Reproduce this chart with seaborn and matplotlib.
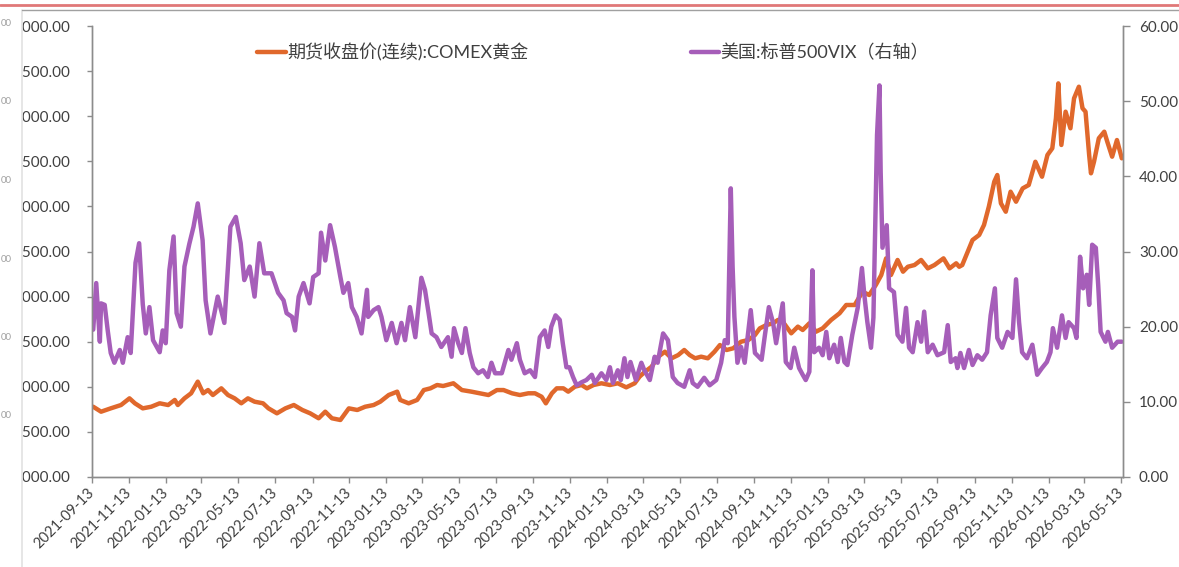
import matplotlib
matplotlib.use("Agg")
import matplotlib.pyplot as plt
import pandas as pd
import seaborn as sns
from matplotlib.lines import Line2D
from matplotlib.patches import Rectangle
from matplotlib.ticker import FormatStrFormatter

# ---------------- data ----------------
gold_label = "期货收盘价(连续):COMEX黄金"
vix_label = "美国:标普500VIX（右轴）"

gold_dates = [
    "2021-09-15", "2021-09-28", "2021-10-14", "2021-10-31", "2021-11-14", "2021-11-23",
    "2021-12-06", "2021-12-20", "2022-01-03", "2022-01-17", "2022-01-28", "2022-02-02",
    "2022-02-13", "2022-02-24", "2022-03-07", "2022-03-16", "2022-03-24", "2022-04-01",
    "2022-04-15", "2022-04-26", "2022-05-07", "2022-05-18", "2022-05-29", "2022-06-09",
    "2022-06-23", "2022-07-02", "2022-07-16", "2022-07-30", "2022-08-13", "2022-08-27",
    "2022-09-09", "2022-09-23", "2022-10-04", "2022-10-15", "2022-10-29", "2022-11-12",
    "2022-11-26", "2022-12-09", "2022-12-23", "2023-01-03", "2023-01-17", "2023-01-31",
    "2023-02-05", "2023-02-19", "2023-03-05", "2023-03-16", "2023-03-27", "2023-04-07",
    "2023-04-17", "2023-05-04", "2023-05-18", "2023-06-03", "2023-06-17", "2023-07-01",
    "2023-07-15", "2023-07-26", "2023-08-09", "2023-08-22", "2023-09-05", "2023-09-16",
    "2023-09-27", "2023-10-04", "2023-10-14", "2023-10-22", "2023-11-02", "2023-11-10",
    "2023-11-21", "2023-12-02", "2023-12-11", "2023-12-22", "2024-01-04", "2024-01-18",
    "2024-01-31", "2024-02-14", "2024-02-28", "2024-03-07", "2024-03-16", "2024-03-27",
    "2024-04-07", "2024-04-18", "2024-04-29", "2024-05-10", "2024-05-20", "2024-05-29",
    "2024-06-07", "2024-06-17", "2024-06-28", "2024-07-09", "2024-07-18", "2024-07-29",
    "2024-08-09", "2024-08-22", "2024-09-03", "2024-09-14", "2024-09-22", "2024-10-03",
    "2024-10-14", "2024-10-22", "2024-10-30", "2024-11-13", "2024-11-24", "2024-12-02",
    "2024-12-13", "2024-12-24", "2025-01-04", "2025-01-18", "2025-02-01", "2025-02-12",
    "2025-02-26", "2025-03-11", "2025-03-22", "2025-04-02", "2025-04-11", "2025-04-19",
    "2025-04-27", "2025-05-08", "2025-05-17", "2025-05-25", "2025-06-05", "2025-06-16",
    "2025-06-27", "2025-07-08", "2025-07-23", "2025-08-02", "2025-08-13", "2025-08-18",
    "2025-08-23", "2025-09-01", "2025-09-09", "2025-09-20", "2025-09-28", "2025-10-06",
    "2025-10-15", "2025-10-20", "2025-10-26", "2025-11-03", "2025-11-11", "2025-11-20",
    "2025-12-01", "2025-12-11", "2025-12-22", "2026-01-02", "2026-01-11", "2026-01-19",
    "2026-01-25", "2026-01-29", "2026-02-03", "2026-02-10", "2026-02-18", "2026-02-24",
    "2026-03-04", "2026-03-10", "2026-03-15", "2026-03-21", "2026-03-24", "2026-03-29",
    "2026-04-06", "2026-04-15", "2026-04-20", "2026-04-28", "2026-05-06", "2026-05-14",
]
gold_values = [
    1779, 1724, 1761, 1798, 1872, 1817,
    1761, 1779, 1817, 1798, 1854, 1798,
    1872, 1928, 2057, 1928, 1964, 1909,
    1983, 1909, 1872, 1817, 1872, 1835,
    1817, 1761, 1706, 1761, 1798, 1743,
    1706, 1651, 1724, 1651, 1632, 1761,
    1743, 1779, 1798, 1835, 1909, 1946,
    1854, 1817, 1854, 1964, 1983, 2020,
    2009, 2039, 1964, 1946, 1928, 1909,
    1964, 1964, 1928, 1909, 1928, 1928,
    1890, 1817, 1928, 1983, 1983, 1946,
    2001, 2020, 1983, 2020, 2039, 2020,
    2039, 1994, 2039, 2112, 2167, 2223,
    2334, 2389, 2316, 2352, 2408, 2352,
    2316, 2334, 2316, 2389, 2463, 2408,
    2427, 2500, 2519, 2574, 2648, 2685,
    2704, 2741, 2722, 2593, 2667, 2630,
    2704, 2611, 2648, 2741, 2815, 2907,
    2907, 3054, 3018, 3129, 3239, 3424,
    3239, 3406, 3276, 3331, 3350, 3406,
    3313, 3350, 3424, 3313, 3369, 3331,
    3350, 3498, 3627, 3683, 3794, 3997,
    4274, 4348, 4034, 3941, 4163, 4052,
    4200, 4237, 4495, 4329, 4570, 4644,
    4976, 5364, 4681, 5050, 4866, 5198,
    5327, 5088, 5050, 4570, 4367, 4495,
    4755, 4828, 4717, 4551, 4736, 4533,
]

vix_dates = [
    "2021-09-15", "2021-09-20", "2021-09-26", "2021-09-28", "2021-10-04", "2021-10-09",
    "2021-10-14", "2021-10-20", "2021-10-29", "2021-11-03", "2021-11-11", "2021-11-16",
    "2021-11-24", "2021-11-30", "2021-12-06", "2021-12-11", "2021-12-17", "2021-12-23",
    "2022-01-03", "2022-01-08", "2022-01-13", "2022-01-19", "2022-01-26", "2022-01-31",
    "2022-02-07", "2022-02-13", "2022-02-21", "2022-02-28", "2022-03-07", "2022-03-15",
    "2022-03-20", "2022-03-28", "2022-04-09", "2022-04-20", "2022-04-26", "2022-04-30",
    "2022-05-09", "2022-05-17", "2022-05-23", "2022-06-01", "2022-06-09", "2022-06-17",
    "2022-06-25", "2022-07-07", "2022-07-18", "2022-07-27", "2022-08-01", "2022-08-10",
    "2022-08-15", "2022-08-21", "2022-08-29", "2022-09-08", "2022-09-14", "2022-09-23",
    "2022-09-27", "2022-10-04", "2022-10-12", "2022-10-20", "2022-10-29", "2022-11-03",
    "2022-11-11", "2022-11-17", "2022-11-25", "2022-12-03", "2022-12-12", "2022-12-14",
    "2022-12-23", "2022-12-31", "2023-01-05", "2023-01-13", "2023-01-22", "2023-01-30",
    "2023-02-07", "2023-02-13", "2023-02-21", "2023-03-02", "2023-03-12", "2023-03-18",
    "2023-03-24", "2023-03-29", "2023-04-06", "2023-04-14", "2023-04-25", "2023-05-01",
    "2023-05-05", "2023-05-12", "2023-05-18", "2023-05-24", "2023-05-31", "2023-06-06",
    "2023-06-14", "2023-06-22", "2023-06-30", "2023-07-06", "2023-07-12", "2023-07-23",
    "2023-08-03", "2023-08-08", "2023-08-17", "2023-08-22", "2023-08-30", "2023-09-08",
    "2023-09-16", "2023-09-24", "2023-10-02", "2023-10-08", "2023-10-13", "2023-10-20",
    "2023-10-27", "2023-11-01", "2023-11-07", "2023-11-12", "2023-11-18", "2023-11-24",
    "2023-12-02", "2023-12-10", "2023-12-19", "2023-12-24", "2024-01-04", "2024-01-12",
    "2024-01-18", "2024-01-23", "2024-01-31", "2024-02-05", "2024-02-11", "2024-02-16",
    "2024-02-21", "2024-03-01", "2024-03-10", "2024-03-15", "2024-03-24", "2024-04-01",
    "2024-04-06", "2024-04-15", "2024-04-23", "2024-05-01", "2024-05-09", "2024-05-20",
    "2024-05-29", "2024-06-03", "2024-06-11", "2024-06-22", "2024-07-01", "2024-07-12",
    "2024-07-20", "2024-07-26", "2024-07-31", "2024-08-05", "2024-08-08", "2024-08-11",
    "2024-08-16", "2024-08-22", "2024-08-28", "2024-09-07", "2024-09-14", "2024-09-25",
    "2024-09-30", "2024-10-07", "2024-10-14", "2024-10-19", "2024-10-30", "2024-11-04",
    "2024-11-12", "2024-11-18", "2024-11-26", "2024-12-02", "2024-12-07", "2024-12-13",
    "2024-12-18", "2024-12-21", "2024-12-29", "2025-01-04", "2025-01-10", "2025-01-15",
    "2025-01-23", "2025-01-29", "2025-02-03", "2025-02-09", "2025-02-14", "2025-02-22",
    "2025-03-03", "2025-03-10", "2025-03-14", "2025-03-19", "2025-03-25", "2025-03-29",
    "2025-04-04", "2025-04-08", "2025-04-10", "2025-04-13", "2025-04-20", "2025-04-24",
    "2025-05-02", "2025-05-08", "2025-05-16", "2025-05-22", "2025-05-27", "2025-06-02",
    "2025-06-10", "2025-06-16", "2025-06-21", "2025-06-27", "2025-07-05", "2025-07-13",
    "2025-07-24", "2025-07-30", "2025-08-04", "2025-08-12", "2025-08-15", "2025-08-20",
    "2025-08-26", "2025-09-03", "2025-09-09", "2025-09-17", "2025-09-25", "2025-10-03",
    "2025-10-09", "2025-10-16", "2025-10-20", "2025-10-28", "2025-11-06", "2025-11-14",
    "2025-11-20", "2025-11-25", "2025-11-30", "2025-12-08", "2025-12-17", "2025-12-25",
    "2026-01-02", "2026-01-10", "2026-01-16", "2026-01-20", "2026-01-27", "2026-02-04",
    "2026-02-10", "2026-02-15", "2026-02-24", "2026-02-28", "2026-03-06", "2026-03-11",
    "2026-03-17", "2026-03-21", "2026-03-26", "2026-04-01", "2026-04-05", "2026-04-09",
    "2026-04-17", "2026-04-21", "2026-04-28", "2026-05-07", "2026-05-14",
]
vix_values = [
    19.6, 25.8, 18.0, 23.1, 22.9, 19.5,
    16.5, 15.2, 16.9, 15.2, 18.6, 16.5,
    28.5, 31.1, 23.0, 19.1, 22.6, 18.2,
    16.6, 19.5, 17.8, 27.5, 32.0, 21.8,
    20.0, 28.0, 31.0, 33.3, 36.4, 31.5,
    23.5, 19.1, 24.0, 20.5, 28.0, 33.3,
    34.6, 31.1, 26.2, 28.0, 24.0, 31.1,
    27.1, 27.1, 24.5, 23.5, 21.8, 21.3,
    19.5, 24.0, 25.8, 23.1, 26.6, 27.1,
    32.5, 28.8, 33.5, 30.6, 26.6, 24.5,
    25.8, 22.6, 21.3, 19.1, 24.9, 21.3,
    22.2, 22.6, 21.3, 18.2, 20.5, 17.8,
    20.5, 18.2, 22.6, 18.6, 26.5, 24.9,
    21.8, 19.1, 18.6, 17.3, 18.6, 16.0,
    19.8, 17.8, 16.5, 19.8, 16.5, 14.6,
    13.8, 14.2, 13.3, 15.2, 13.8, 13.8,
    16.9, 15.6, 17.8, 15.6, 13.8, 14.2,
    13.3, 18.6, 19.5, 17.3, 20.0, 21.5,
    20.9, 17.8, 14.6, 14.6, 13.3, 12.2,
    12.6, 12.9, 13.6, 12.5, 13.8, 12.9,
    14.6, 12.5, 14.2, 12.9, 15.8, 13.3,
    15.3, 12.9, 15.2, 14.2, 12.9, 16.0,
    15.2, 19.1, 18.2, 13.3, 12.5, 12.0,
    14.2, 12.5, 12.0, 13.2, 12.2, 12.9,
    15.2, 18.2, 17.8, 38.4, 28.0, 21.3,
    15.2, 17.3, 15.2, 22.2, 16.5, 15.6,
    18.6, 22.6, 20.5, 17.8, 23.1, 15.3,
    14.5, 17.2, 14.5, 13.6, 12.9, 14.0,
    27.5, 16.6, 17.2, 16.2, 19.3, 15.8,
    17.6, 15.3, 18.5, 15.3, 14.9, 18.9,
    22.5, 27.8, 24.2, 20.6, 17.2, 21.2,
    45.5, 52.1, 40.6, 30.5, 33.5, 25.1,
    24.6, 18.9, 18.0, 22.5, 17.2, 16.6,
    20.6, 18.0, 22.0, 16.6, 17.6, 16.2,
    16.6, 20.2, 15.3, 15.8, 14.5, 16.5,
    14.5, 16.9, 14.9, 16.2, 15.6, 16.6,
    21.5, 25.1, 18.5, 17.2, 19.3, 18.5,
    26.3, 20.6, 16.6, 15.8, 17.6, 13.6,
    14.5, 15.3, 16.6, 19.8, 17.2, 21.5,
    18.5, 20.6, 19.8, 18.5, 29.3, 25.1,
    26.9, 22.9, 30.9, 30.5, 25.5, 19.3,
    18.0, 19.3, 17.2, 18.0, 18.0,
]

x_tick_labels = [
    "2021-09-13", "2021-11-13", "2022-01-13", "2022-03-13", "2022-05-13", "2022-07-13",
    "2022-09-13", "2022-11-13", "2023-01-13", "2023-03-13", "2023-05-13", "2023-07-13",
    "2023-09-13", "2023-11-13", "2024-01-13", "2024-03-13", "2024-05-13", "2024-07-13",
    "2024-09-13", "2024-11-13", "2025-01-13", "2025-03-13", "2025-05-13", "2025-07-13",
    "2025-09-13", "2025-11-13", "2026-01-13", "2026-03-13", "2026-05-13",
]
left_ticks = [1000, 1500, 2000, 2500, 3000, 3500, 4000, 4500, 5000, 5500, 6000]
right_ticks = [0, 10, 20, 30, 40, 50, 60]

# ---------------- style ----------------
GOLD = "#E0682C"
VIX = "#A65EB9"
TXT = "#404040"
SPINE = "#8C8C8C"

sns.set_theme(style="white")
plt.rcParams["font.family"] = ["Lato", "Noto Sans CJK SC", "DejaVu Sans"]

W, H = 1179, 567
fig = plt.figure(figsize=(W / 100, H / 100), dpi=100)
L, R, T, B = 92, 1123, 26, 477
ax = fig.add_axes([L / W, 1 - B / H, (R - L) / W, (B - T) / H])

gold_df = pd.DataFrame({"date": pd.to_datetime(gold_dates), "value": gold_values})
vix_df = pd.DataFrame({"date": pd.to_datetime(vix_dates), "value": vix_values})

sns.lineplot(data=gold_df, x="date", y="value", ax=ax, color=GOLD, lw=3.2,
             label=gold_label, legend=False)
ax2 = ax.twinx()
sns.lineplot(data=vix_df, x="date", y="value", ax=ax2, color=VIX, lw=3.2,
             label=vix_label, legend=False)

ax.set_xlim(pd.Timestamp("2021-09-13"), pd.Timestamp("2026-05-16"))
ax.set_ylim(left_ticks[0], left_ticks[-1])
ax2.set_ylim(right_ticks[0], right_ticks[-1])
for a in (ax, ax2):
    a.set_xlabel("")
    a.set_ylabel("")
    a.set_facecolor("none")
    a.spines["top"].set_visible(False)
    for s in ("left", "right", "bottom"):
        a.spines[s].set_color(SPINE)
        a.spines[s].set_linewidth(1.0)

ax.set_yticks(left_ticks)
ax.yaxis.set_major_formatter(FormatStrFormatter("%.2f"))
ax2.set_yticks(right_ticks)
ax2.yaxis.set_major_formatter(FormatStrFormatter("%.2f"))

ax.set_xticks(pd.to_datetime(x_tick_labels))
ax.set_xticklabels(x_tick_labels, rotation=45, ha="right", rotation_mode="anchor",
                   va="center")

ax.tick_params(axis="y", direction="out", length=3.6, width=1, color=SPINE,
               pad=12, labelsize=11, labelcolor=TXT, left=True)
ax2.tick_params(axis="y", direction="out", length=5, width=1, color=SPINE,
                pad=6.5, labelsize=11, labelcolor=TXT, right=True)
ax.tick_params(axis="x", direction="out", length=4, width=1, color=SPINE,
               pad=6, labelsize=10.5, labelcolor=TXT, bottom=True)

# legend
h1, l1 = ax.get_legend_handles_labels()
h2, l2 = ax2.get_legend_handles_labels()
leg = fig.legend(h1 + h2, l1 + l2, loc="center", bbox_to_anchor=(0.503, 1 - 52 / H),
                 ncol=2, frameon=False, columnspacing=9.0, handlelength=1.6,
                 handletextpad=0.05, fontsize=13, labelcolor=TXT)
for ln in leg.get_lines():
    ln.set_linewidth(3.2)

# page decorations from the screenshot (cropped neighbouring content)
fig.add_artist(Rectangle((0, 0), 22 / W, 1, transform=fig.transFigure,
                         facecolor="white", edgecolor="none", zorder=10))
fig.add_artist(Line2D([22 / W, 22 / W], [0, 1 - 10 / H], transform=fig.transFigure,
                      color="#E2E2E2", lw=1.2, zorder=11))
fig.add_artist(Line2D([22 / W, 1], [1 - 9.5 / H, 1 - 9.5 / H], transform=fig.transFigure,
                      color="#A0A0A0", lw=1.0, zorder=11))
fig.add_artist(Line2D([0, 1], [1 - 4.5 / H, 1 - 4.5 / H], transform=fig.transFigure,
                      color="#E07878", lw=2.0, zorder=11))
for yp in (24, 102, 181, 259, 338, 416):
    fig.text(0.5 / W, 1 - yp / H, "00", color="#A0A0A0", fontsize=7,
             ha="left", va="center", zorder=12)

fig.savefig("out.png", dpi=100)
